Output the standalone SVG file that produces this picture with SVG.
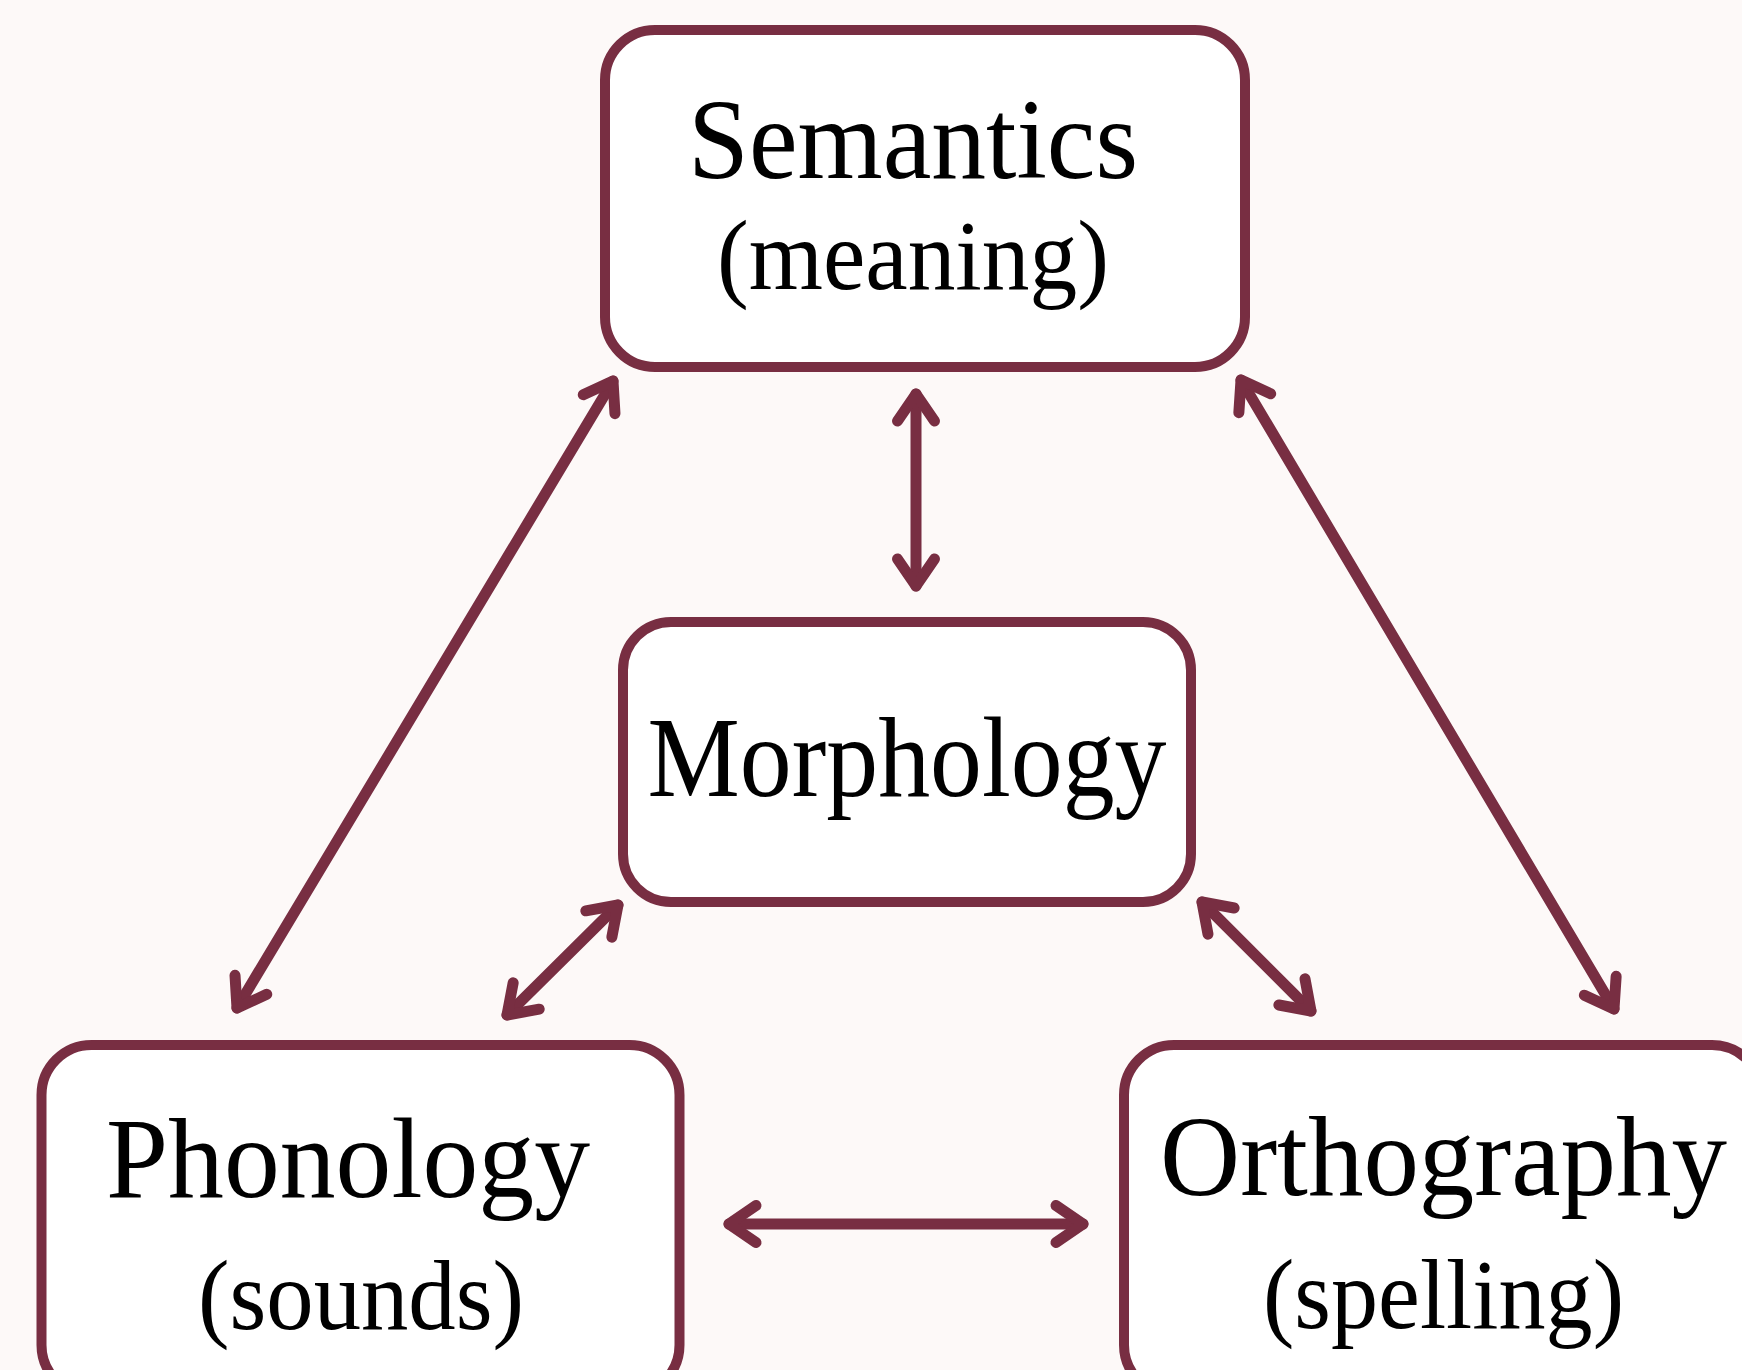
<svg xmlns="http://www.w3.org/2000/svg" width="1742" height="1370" viewBox="0 0 1742 1370">
  <style>
    .box { fill: #ffffff; stroke: #782E42; stroke-width: 10; }
    .conn { fill: none; stroke: #782E42; stroke-width: 11; stroke-linecap: round; marker-start: url(#ah); marker-end: url(#ah); }
    .lbl { font-family: "Liberation Serif", "Times New Roman", serif; fill: #000000; text-anchor: middle; }
    .main { font-size: 115px; }
    .sub { font-size: 99px; }
  </style>
  <defs>
    <marker id="ah" markerUnits="userSpaceOnUse" markerWidth="80" markerHeight="80" viewBox="-40 -40 80 80" refX="0" refY="0" orient="auto-start-reverse" overflow="visible">
      <path d="M-27,-18.5 L0,0 L-27,18.5" fill="none" stroke="#782E42" stroke-width="11" stroke-linecap="round" stroke-linejoin="round"/>
    </marker>
  </defs>
  <rect x="0" y="0" width="1742" height="1370" fill="#FDF9F8"/>
  <g id="connectors">
    <line class="conn" x1="916" y1="394" x2="916" y2="586"/>
    <line class="conn" x1="613" y1="381" x2="237" y2="1008"/>
    <line class="conn" x1="1241" y1="380" x2="1614" y2="1009"/>
    <line class="conn" x1="618" y1="905" x2="507" y2="1015"/>
    <line class="conn" x1="1202" y1="902" x2="1311" y2="1011"/>
    <line class="conn" x1="729" y1="1224" x2="1083" y2="1224"/>
  </g>
  <g id="semantics">
    <rect class="box" x="605" y="30" width="640" height="337" rx="50" ry="50"/>
    <text class="lbl main" x="913" y="178" textLength="450" lengthAdjust="spacingAndGlyphs">Semantics</text>
    <text class="lbl sub" x="913" y="289" textLength="392" lengthAdjust="spacingAndGlyphs">(meaning)</text>
  </g>
  <g id="morphology">
    <rect class="box" x="623" y="622" width="568" height="280" rx="48" ry="48"/>
    <text class="lbl main" x="907" y="796" textLength="519" lengthAdjust="spacingAndGlyphs">Morphology</text>
  </g>
  <g id="phonology">
    <rect class="box" x="41.5" y="1045" width="638" height="350" rx="50" ry="50"/>
    <text class="lbl main" x="348" y="1197" textLength="484" lengthAdjust="spacingAndGlyphs">Phonology</text>
    <text class="lbl sub" x="361" y="1329" textLength="326" lengthAdjust="spacingAndGlyphs">(sounds)</text>
  </g>
  <g id="orthography">
    <rect class="box" x="1124" y="1045" width="638" height="350" rx="50" ry="50"/>
    <text class="lbl main" x="1443.5" y="1195" textLength="567" lengthAdjust="spacingAndGlyphs">Orthography</text>
    <text class="lbl sub" x="1443.5" y="1328" textLength="361" lengthAdjust="spacingAndGlyphs">(spelling)</text>
  </g>
</svg>
